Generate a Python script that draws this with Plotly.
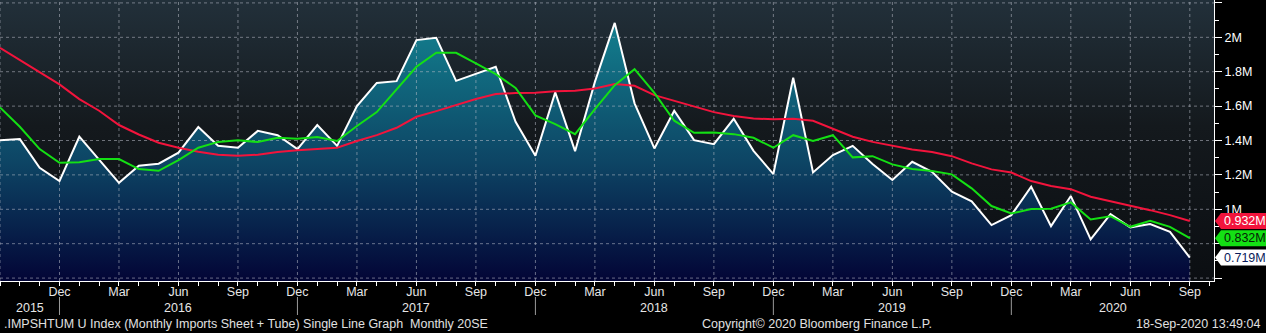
import plotly.graph_objects as go
import pandas as pd

# ---------------- data ----------------
first_month = "2015-09"
last_month = "2020-09"
months = pd.period_range(first_month, last_month, freq="M")

imports = [1.402, 1.408, 1.241, 1.164,
           1.422, 1.290, 1.154, 1.253, 1.265, 1.329, 1.478, 1.369, 1.358, 1.456, 1.431, 1.350,
           1.490, 1.369, 1.600, 1.735, 1.745, 1.984, 1.997, 1.747, 1.788, 1.829, 1.509, 1.311,
           1.680, 1.338, 1.741, 2.084, 1.616, 1.354, 1.573, 1.402, 1.379, 1.526, 1.340, 1.205,
           1.765, 1.214, 1.315, 1.369, 1.263, 1.170, 1.276, 1.218, 1.102, 1.046, 0.908, 0.966,
           1.131, 0.902, 1.077, 0.825, 0.972, 0.895, 0.914, 0.869, 0.719]
avg_short = [1.592, 1.480, 1.350, 1.270,
             1.274, 1.292, 1.292, 1.234, 1.224, 1.286, 1.358, 1.392, 1.402, 1.391, 1.416, 1.410,
             1.420, 1.397, 1.484, 1.565, 1.697, 1.829, 1.910, 1.910, 1.848, 1.786, 1.706, 1.546,
             1.495, 1.437, 1.583, 1.722, 1.815, 1.677, 1.515, 1.445, 1.447, 1.437, 1.416, 1.358,
             1.431, 1.398, 1.431, 1.302, 1.309, 1.261, 1.234, 1.222, 1.203, 1.122, 1.019, 0.976,
             1.001, 1.003, 1.040, 0.941, 0.960, 0.898, 0.933, 0.898, 0.832]
avg_long = [1.939, 1.867, 1.800, 1.726,
            1.641, 1.573, 1.490, 1.435, 1.387, 1.358, 1.334, 1.317, 1.311, 1.317, 1.333, 1.344,
            1.350, 1.358, 1.397, 1.431, 1.474, 1.538, 1.571, 1.606, 1.641, 1.670, 1.676, 1.677,
            1.687, 1.689, 1.703, 1.728, 1.718, 1.664, 1.631, 1.600, 1.565, 1.542, 1.528, 1.523,
            1.526, 1.515, 1.470, 1.422, 1.392, 1.369, 1.348, 1.333, 1.309, 1.267, 1.232, 1.214,
            1.164, 1.135, 1.117, 1.073, 1.048, 1.020, 0.995, 0.966, 0.932]

y_tick_vals = [0.6, 0.8, 1.0, 1.2, 1.4, 1.6, 1.8, 2.0, 2.2]
y_tick_text = ["", "", "1M", "1.2M", "1.4M", "1.6M", "1.8M", "2M", ""]
quarter_months = ["Dec", "Mar", "Jun", "Sep"]

footer_left = ".IMPSHTUM U Index (Monthly Imports Sheet + Tube) Single Line Graph  Monthly 20SE"
footer_mid = "Copyright\u00a9 2020 Bloomberg Finance L.P."
footer_right = "18-Sep-2020 13:49:04"

# ---------------- layout constants ----------------
W, H = 1266, 333
ML, MR, MT, MB = 0, 52, 0, 52
PW, PH = W - ML - MR, H - MT - MB
X_LO, X_HI = 0.0, 61.22
Y_LO, Y_HI = 0.583, 2.217
FONT = "Liberation Sans, Arial"

idx = list(range(len(months)))
mon_names = [m.strftime("%b") for m in months]

# major ticks at quarter months (plus the first month for gridline)
tick_idx = [i for i, n in enumerate(mon_names) if n in quarter_months]
tick_txt = ["" if i == 0 else mon_names[i] for i in tick_idx]

fig = go.Figure()

# plot-area background gradient
fig.add_trace(go.Scatter(
    x=[X_LO, X_HI, X_HI, X_LO], y=[Y_LO, Y_LO, Y_HI, Y_HI],
    mode="none", fill="toself",
    fillgradient=dict(type="vertical", start=Y_LO, stop=Y_HI,
                      colorscale=[[0, "#0b0e12"], [0.55, "#14191d"], [1, "#22303a"]]),
    hoverinfo="skip", showlegend=False))

# area under the imports line
fig.add_trace(go.Scatter(
    x=idx, y=imports, mode="none", fill="tozeroy",
    fillgradient=dict(type="vertical", start=Y_LO, stop=2.1,
                      colorscale=[[0, "#030536"], [0.45, "#0d4464"], [1, "#13808f"]]),
    hoverinfo="skip", showlegend=False))

# gridlines (drawn over the fill)
grid_color = "rgba(185,190,200,0.55)"
hx, hy = [], []
for v in y_tick_vals:
    hx += [X_LO, X_HI, None]
    hy += [v, v, None]
vx, vy = [], []
for i in tick_idx:
    vx += [i, i, None]
    vy += [Y_LO, Y_HI, None]
fig.add_trace(go.Scatter(x=hx, y=hy, mode="lines",
                         line=dict(color=grid_color, width=1, dash="3px,3px"),
                         hoverinfo="skip", showlegend=False))
fig.add_trace(go.Scatter(x=vx, y=vy, mode="lines",
                         line=dict(color=grid_color, width=1, dash="3px,3px"),
                         hoverinfo="skip", showlegend=False))

# series lines
fig.add_trace(go.Scatter(x=idx, y=imports, mode="lines",
                         line=dict(color="#ffffff", width=2), showlegend=False))
fig.add_trace(go.Scatter(x=idx, y=avg_long, mode="lines",
                         line=dict(color="#f2143c", width=2), showlegend=False))
fig.add_trace(go.Scatter(x=idx, y=avg_short, mode="lines",
                         line=dict(color="#14e014", width=2), showlegend=False))

def ypaper(v):
    return (v - Y_LO) / (Y_HI - Y_LO)

def xpaper(v):
    return (v - X_LO) / (X_HI - X_LO)

shapes = []
annotations = []

# last-value tags
tags = [(avg_long[-1], "#f2143c", "#ffffff"),
        (avg_short[-1], "#14e014", "#062006"),
        (imports[-1], "#ffffff", "#0a1a5a")]
for val, bg, fg in tags:
    shapes.append(dict(type="path", xref="paper", yref="paper",
                       xsizemode="pixel", ysizemode="pixel",
                       xanchor=1, yanchor=ypaper(val),
                       path="M 1,0 L 7,8 L 60,8 L 60,-8 L 7,-8 Z",
                       fillcolor=bg, line=dict(width=0), layer="above"))
    annotations.append(dict(xref="paper", yref="paper", x=1, xshift=8,
                            y=ypaper(val), xanchor="left", yanchor="middle",
                            text=f"{val:.3f}M", showarrow=False,
                            font=dict(family=FONT, size=12.5, color=fg)))

# year separators and labels
sep_idx = [i for i, n in enumerate(mon_names) if n == "Dec"]
for i in sep_idx:
    shapes.append(dict(type="line", xref="paper", yref="paper",
                       x0=xpaper(i), x1=xpaper(i), y0=-16 / PH, y1=-34 / PH,
                       line=dict(color="#9a9a9a", width=1)))
bounds = [X_LO] + sep_idx + [X_HI]
years = sorted(set(m.year for m in months))
for k, yr in enumerate(years):
    annotations.append(dict(xref="x", yref="paper", x=(bounds[k] + bounds[k + 1]) / 2,
                            y=-27 / PH, xanchor="center", yanchor="middle",
                            text=str(yr), showarrow=False,
                            font=dict(family=FONT, size=12.5, color="#e6e6e6")))

# footer
foot_y = -43 / PH
annotations.append(dict(xref="paper", yref="paper", x=2 / PW, y=foot_y, xanchor="left",
                        yanchor="middle", text=footer_left, showarrow=False,
                        font=dict(family=FONT, size=12.5, color="#e0e0e0")))
annotations.append(dict(xref="paper", yref="paper", x=700 / PW, y=foot_y, xanchor="left",
                        yanchor="middle", text=footer_mid, showarrow=False,
                        font=dict(family=FONT, size=12.5, color="#e0e0e0")))
annotations.append(dict(xref="paper", yref="paper", x=1262 / PW, y=foot_y, xanchor="right",
                        yanchor="middle", text=footer_right, showarrow=False,
                        font=dict(family=FONT, size=12.5, color="#e0e0e0")))

fig.update_layout(
    width=W, height=H,
    margin=dict(l=ML, r=MR, t=MT, b=MB, pad=0),
    paper_bgcolor="#000000", plot_bgcolor="#000000",
    showlegend=False, hovermode=False,
    shapes=shapes, annotations=annotations,
    xaxis=dict(range=[X_LO, X_HI], tickmode="array", tickvals=tick_idx, ticktext=tick_txt,
               showgrid=False, zeroline=False, showline=True, linecolor="#ffffff", linewidth=1,
               ticks="outside", ticklen=4, tickcolor="#ffffff", tickwidth=1,
               ticklabelstandoff=-5,
               minor=dict(tickmode="linear", tick0=0, dtick=1, ticks="outside",
                          ticklen=4, tickcolor="#ffffff", showgrid=False),
               tickfont=dict(family=FONT, size=12.5, color="#e6e6e6"),
               fixedrange=True),
    yaxis=dict(range=[Y_LO, Y_HI], side="right", tickmode="array",
               tickvals=y_tick_vals, ticktext=y_tick_text,
               showgrid=False, zeroline=False, showline=True, linecolor="#ffffff", linewidth=1,
               ticks="outside", ticklen=7, tickcolor="#ffffff", tickwidth=1,
               minor=dict(tickmode="linear", tick0=0.6, dtick=0.1, ticks="outside",
                          ticklen=4, tickcolor="#ffffff", showgrid=False),
               tickfont=dict(family=FONT, size=12.5, color="#ffffff"),
               fixedrange=True),
)

fig.write_html("out.html", config={"displayModeBar": False})
